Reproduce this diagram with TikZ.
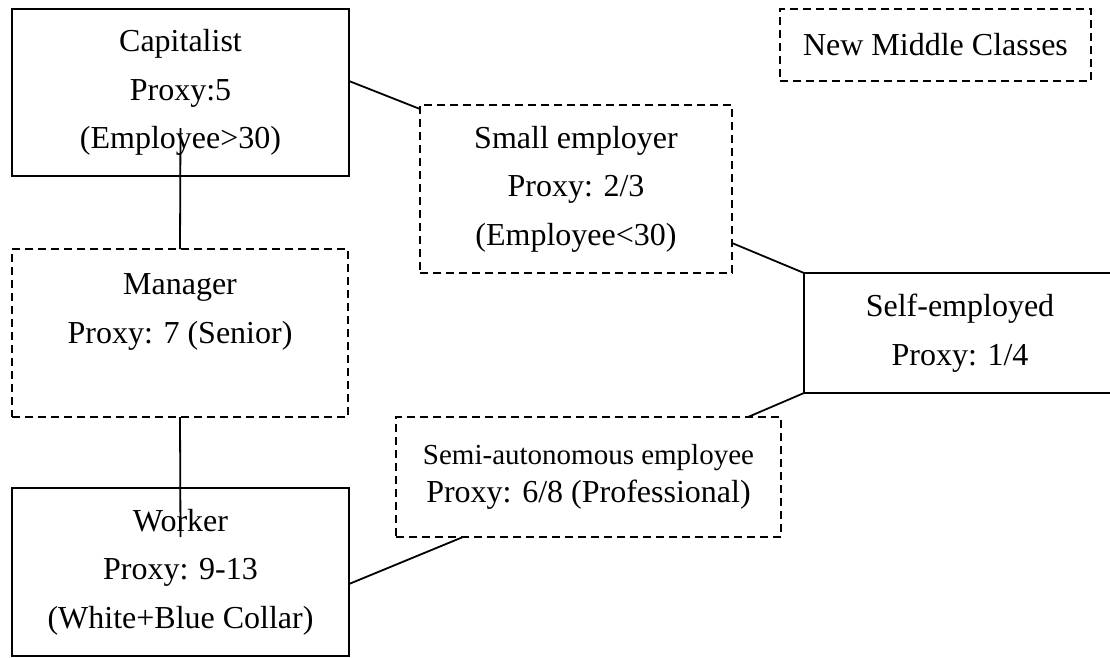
\documentclass[tikz,border=0pt]{standalone}
\usepackage{fontspec}
\setmainfont{Liberation Serif}
\usepackage{tikz}
\usetikzlibrary{arrows,positioning}
\tikzstyle{sb} = [rectangle, draw=black, line width=1.8pt, align=center, inner sep=0pt, outer sep=0pt, font=\fontsize{32}{48.5}\selectfont]
\tikzstyle{db} = [sb, dash pattern=on 8pt off 5pt]
\tikzstyle{cn} = [black, line width=1.8pt]

\begin{document}
\begin{tikzpicture}
		[
			x=1pt, y=-1pt,
		]
		\useasboundingbox (0,0) rectangle (1110,657);

		\node[sb, minimum width=337pt, minimum height=167pt] (cap) at (180.5,92.5) {Capitalist\\Proxy:5\\(Employee>30)};
		\node[db, minimum width=336pt, minimum height=168pt] (mgr) at (180,333) {Manager\\Proxy: 7 (Senior)\\\mbox{}};
		\node[sb, minimum width=337pt, minimum height=168pt] (wrk) at (180.5,572) {Worker\\Proxy: 9-13\\(White+Blue Collar)};
		\node[db, minimum width=312pt, minimum height=168pt] (sme) at (576,189) {Small employer\\Proxy: 2/3\\(Employee<30)};
		\node[db, minimum width=311pt, minimum height=72pt] (nmc) at (935.5,45) {New Middle Classes};
		\node[sb, minimum width=312pt, minimum height=120pt] (self) at (960,333) {Self-employed\\Proxy: 1/4};
		\node[db, minimum width=385pt, minimum height=120pt, font=\fontsize{32}{38}\selectfont] (semi) at (588.5,477)
			{{\fontsize{29}{38}\selectfont Semi-autonomous employee}\\Proxy: 6/8 (Professional)};

		\draw[cn] ([yshift=11.5pt]cap.east) -- ([yshift=-4pt]sme.north west);
		\draw[cn] ([yshift=-35.5pt]cap.center) -- (mgr.north);
		\draw[cn] (mgr.south) -- ([yshift=35pt]wrk.center);
		\draw[cn] ([yshift=-12pt]wrk.east) -- ([xshift=-125.5pt]semi.south);
		\draw[cn] ([xshift=159.5pt]semi.north) -- (self.south west);
		\draw[cn] ([yshift=30pt]sme.south east) -- (self.north west);
	\end{tikzpicture}
\end{document}
